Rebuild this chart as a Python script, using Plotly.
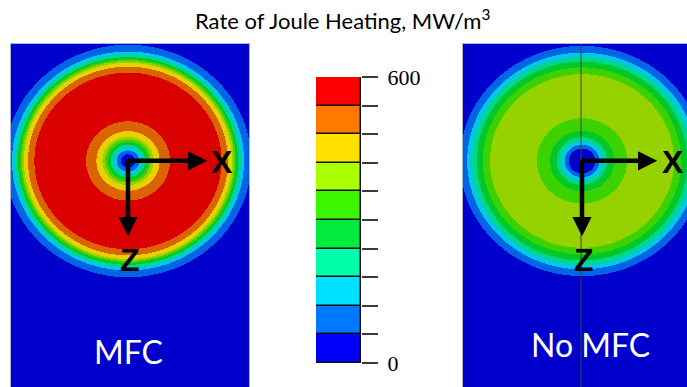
import numpy as np
import plotly.graph_objects as go

# Rate of Joule heating bands (MW/m^3)
levels = [0, 60, 120, 180, 240, 300, 360, 420, 480, 540, 600]

# Legend colours for each band (low -> high)
legend_colors = ["#0000ff", "#0078ff", "#00e1ff", "#00ffaa", "#00eb3c",
                 "#3cf500", "#aaff00", "#ffe100", "#ff7800", "#ff0000"]
# Shaded rendering colours used on the cross-sections
field_colors = ["#0000cd", "#0064e6", "#00c8e6", "#00d78c", "#00c828",
                "#3cd200", "#96d200", "#e6d200", "#dc6400", "#da0000"]

# Radial profiles: outer radius of each ring (mm) and its heating rate
mfc_ring_radius = [1.8, 2.8, 3.6, 4.3, 5.0, 5.7, 6.4, 7.9, 10.5,
                   23.4, 25.0, 26.0, 26.5, 27.0, 27.5, 28.2, 29.0, 30.8]
mfc_ring_value = [30, 90, 150, 210, 270, 330, 390, 450, 510,
                  570, 510, 450, 390, 330, 270, 210, 150, 90]
nomfc_ring_radius = [3.3, 4.3, 5.3, 6.3, 8.0, 11.3,
                     23.0, 24.8, 26.3, 27.5, 28.7, 30.5]
nomfc_ring_value = [30, 90, 150, 210, 270, 330,
                    390, 330, 270, 210, 150, 90]
outside_value = 30

# Visible extent of each section (mm), z measured downward
mfc_x_range = [-29.25, 30.25]
nomfc_x_range = [-29.75, 26.25]
z_range = [-31.0, 60.0]


def ring_field(x_rng, radii, values, dx=0.25, dz=0.265):
    x = np.arange(x_rng[0] + dx / 2, x_rng[1], dx)
    z = np.arange(z_range[0] + dz / 2, z_range[1], dz)
    xx, zz = np.meshgrid(x, z)
    r = np.hypot(xx, zz)
    lookup = np.append(np.asarray(values, float), outside_value)
    idx = np.searchsorted(np.asarray(radii), r, side="right")
    return x, z, lookup[idx]


def stepped_scale(colors):
    n = len(colors)
    scale = []
    for i, c in enumerate(colors):
        scale.append([i / n, c])
        scale.append([(i + 1) / n, c])
    return scale


fig = go.Figure()

x1, z1, f1 = ring_field(mfc_x_range, mfc_ring_radius, mfc_ring_value)
x2, z2, f2 = ring_field(nomfc_x_range, nomfc_ring_radius, nomfc_ring_value)

for xs, zs, f, xa, ya in [(x1, z1, f1, "x", "y"), (x2, z2, f2, "x2", "y2")]:
    fig.add_trace(go.Heatmap(
        x=xs, y=zs, z=f, zmin=levels[0], zmax=levels[-1],
        colorscale=stepped_scale(field_colors), showscale=False,
        hoverinfo="skip", xaxis=xa, yaxis=ya))

# Legend bar: one stacked segment per band
fig.add_trace(go.Bar(
    x=["scale"] * (len(levels) - 1),
    y=np.diff(levels),
    base=levels[:-1],
    marker=dict(color=legend_colors, line=dict(color="#111111", width=1.5)),
    width=1.0, hoverinfo="skip", showlegend=False,
    xaxis="x3", yaxis="y3"))

W, H = 687, 387
top = 1 - 44 / H
panel_axis = dict(showticklabels=False, showgrid=False, zeroline=False,
                  ticks="", showline=True, mirror=True,
                  linecolor="#aab4d2", linewidth=1, automargin=False)

tick_text = [str(levels[0])] + [""] * (len(levels) - 2) + [str(levels[-1])]

fig.update_layout(
    width=W, height=H,
    margin=dict(l=0, r=0, t=0, b=0, pad=0, autoexpand=False),
    paper_bgcolor="white", plot_bgcolor="white",
    showlegend=False, bargap=0,
    xaxis=dict(domain=[11 / W, 249 / W], range=mfc_x_range, anchor="y", **panel_axis),
    yaxis=dict(domain=[0, top], range=z_range[::-1], anchor="x", **panel_axis),
    xaxis2=dict(domain=[463 / W, 1], range=nomfc_x_range, anchor="y2", **panel_axis),
    yaxis2=dict(domain=[0, top], range=z_range[::-1], anchor="x2", **panel_axis),
    xaxis3=dict(domain=[316 / W, 361 / W], range=[-0.5, 0.5], anchor="y3",
                showticklabels=False, showgrid=False, zeroline=False,
                showline=False, ticks="", automargin=False),
    yaxis3=dict(domain=[1 - 363 / H, 1 - 77 / H], range=[levels[0], levels[-1]],
                anchor="x3", side="right", showgrid=False, zeroline=False,
                showline=False, ticks="outside", ticklen=16, tickwidth=1.5,
                tickcolor="#3a3a3a", tickvals=levels, ticktext=tick_text,
                ticklabelstandoff=5, automargin=False,
                tickfont=dict(family="Liberation Serif", size=22, color="black")),
)

# Symmetry plane trace on the No-MFC section
fig.add_shape(type="line", xref="x2", yref="y2 domain", x0=-0.25, x1=-0.25,
              y0=0, y1=1, line=dict(color="#404040", width=1))

# Coordinate axes (X to the right, Z downward) on both sections
axis_font = dict(family="Liberation Sans", size=32, color="black")
for xa, ya, xlen, xlab in [("x", "y", 19.8, 23.6), ("x2", "y2", 18.8, 22.8)]:
    fig.add_annotation(xref=xa, yref=ya, axref=xa, ayref=ya, x=xlen, y=0,
                       ax=-0.4, ay=0, text="", showarrow=True, arrowhead=2,
                       arrowsize=0.85, arrowwidth=4.5, arrowcolor="black")
    fig.add_annotation(xref=xa, yref=ya, axref=xa, ayref=ya, x=0, y=20.0,
                       ax=0, ay=-0.4, text="", showarrow=True, arrowhead=2,
                       arrowsize=0.85, arrowwidth=4.5, arrowcolor="black")
    fig.add_annotation(xref=xa, yref=ya, x=xlab, y=0.3, text="<b>X</b>",
                       showarrow=False, font=axis_font,
                       xanchor="center", yanchor="middle")
    fig.add_annotation(xref=xa, yref=ya, x=0.5, y=26.2, text="<b>Z</b>",
                       showarrow=False, font=axis_font,
                       xanchor="center", yanchor="middle")

label_font = dict(family="Lato", size=32, color="white")
fig.add_annotation(xref="x", yref="y", x=0, y=50.7, text="MFC",
                   showarrow=False, font=label_font,
                   xanchor="center", yanchor="middle")
fig.add_annotation(xref="x2", yref="y2", x=2, y=48.8, text="No MFC",
                   showarrow=False, font=label_font,
                   xanchor="center", yanchor="middle")

fig.add_annotation(xref="paper", yref="paper", x=342 / W, y=1 - 19 / H,
                   text="Rate of Joule Heating, MW/m<sup>3</sup>",
                   xanchor="center", yanchor="middle",
                   showarrow=False, font=dict(family="Lato", size=22, color="black"))

fig.write_html("out.html")
